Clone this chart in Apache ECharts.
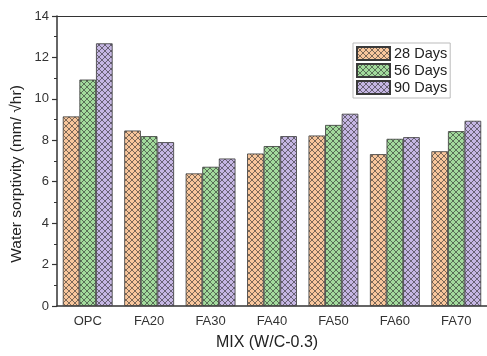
<!DOCTYPE html>
<html>
<head>
<meta charset="utf-8">
<script src="https://cdn.jsdelivr.net/npm/echarts@6/dist/echarts.min.js"></script>
<style>
  html, body { margin: 0; padding: 0; background: #fff; }
  #chart { width: 487px; height: 356px; }
</style>
</head>
<body>
<div id="chart"></div>
<script>
// Mix designs on the x axis
const categories = ['OPC', 'FA20', 'FA30', 'FA40', 'FA50', 'FA60', 'FA70'];

// Water sorptivity (mm/√hr) by curing age
const days28 = [9.15, 8.47, 6.40, 7.36, 8.23, 7.33, 7.47];
const days56 = [10.93, 8.20, 6.72, 7.72, 8.74, 8.07, 8.44];
const days90 = [12.68, 7.91, 7.12, 8.20, 9.28, 8.15, 8.94];

const seriesNames = ['28 Days', '56 Days', '90 Days'];
const yTicks = [0, 2, 4, 6, 8, 10, 12, 14];

// Cross-hatched fill: base colour with diagonal lines both ways
function hatch(fill) {
  const s = 6;
  const c = document.createElement('canvas');
  c.width = s; c.height = s;
  const g = c.getContext('2d');
  g.fillStyle = fill;
  g.fillRect(0, 0, s, s);
  g.strokeStyle = 'rgba(40,40,40,0.75)';
  g.lineWidth = 0.8;
  g.beginPath();
  g.moveTo(-1, -1); g.lineTo(s + 1, s + 1);
  g.moveTo(s + 1, -1); g.lineTo(-1, s + 1);
  g.stroke();
  return { image: c, repeat: 'repeat' };
}

const fills = ['#f8c69c', '#a2da9c', '#c5b6e3'];
const data = [days28, days56, days90];

const chart = echarts.init(document.getElementById('chart'), null, { renderer: 'canvas' });

const axisColor = '#333';
const font = 'Liberation Sans, Arial, sans-serif';

chart.setOption({
  animation: false,
  backgroundColor: '#fff',
  grid: { left: 57, top: 16, width: 432, height: 293, containLabel: false },
  legend: {
    data: seriesNames,
    orient: 'vertical',
    left: 353,
    top: 43,
    itemWidth: 33,
    itemHeight: 13,
    itemGap: 2,
    padding: [3, 3, 3, 3],
    borderColor: '#bbb',
    borderWidth: 1,
    icon: 'rect',
    textStyle: { fontFamily: font, fontSize: 14.5, lineHeight: 14, color: '#222', padding: [0, 0, 0, -1] }
  },
  xAxis: [{
    type: 'category',
    data: categories,
    name: 'MIX (W/C-0.3)',
    nameLocation: 'middle',
    nameGap: 29,
    nameTextStyle: { fontFamily: font, fontSize: 16, color: '#222', padding: [0, 10, 0, 0] },
    axisLine: { lineStyle: { color: axisColor, width: 1.5 } },
    axisTick: { alignWithLabel: true, length: 4, lineStyle: { color: axisColor, width: 1.2 } },
    axisLabel: { fontFamily: font, fontSize: 13, color: '#333', margin: 9 }
  }, {
    type: 'category',
    data: categories,
    position: 'top',
    axisLine: { lineStyle: { color: axisColor, width: 1.2 } },
    axisTick: { show: false },
    axisLabel: { show: false }
  }],
  yAxis: {
    type: 'value',
    min: yTicks[0],
    max: yTicks[yTicks.length - 1],
    interval: 2,
    axisLine: { show: true, lineStyle: { color: axisColor, width: 1.5 } },
    axisTick: { show: true, length: 5, lineStyle: { color: axisColor, width: 1.2 } },
    minorTick: { show: true, splitNumber: 2, length: 3, lineStyle: { color: axisColor, width: 1 } },
    splitLine: { show: false },
    axisLabel: { fontFamily: font, fontSize: 13, color: '#333', margin: 8 }
  },
  // Y axis title, rotated
  graphic: [{
    type: 'text',
    x: 17,
    y: 174,
    rotation: Math.PI / 2,
    style: {
      text: 'Water sorptivity (mm/ √hr)',
      fontFamily: font,
      fontSize: 15.5,
      fill: '#222',
      align: 'center',
      verticalAlign: 'middle'
    }
  }],
  series: seriesNames.map((name, i) => ({
    name: name,
    type: 'bar',
    data: data[i],
    barWidth: 16.6,
    barGap: '0%',
    itemStyle: {
      color: hatch(fills[i]),
      borderColor: '#3a3a3a',
      borderWidth: 0.8
    }
  }))
});
</script>
</body>
</html>
